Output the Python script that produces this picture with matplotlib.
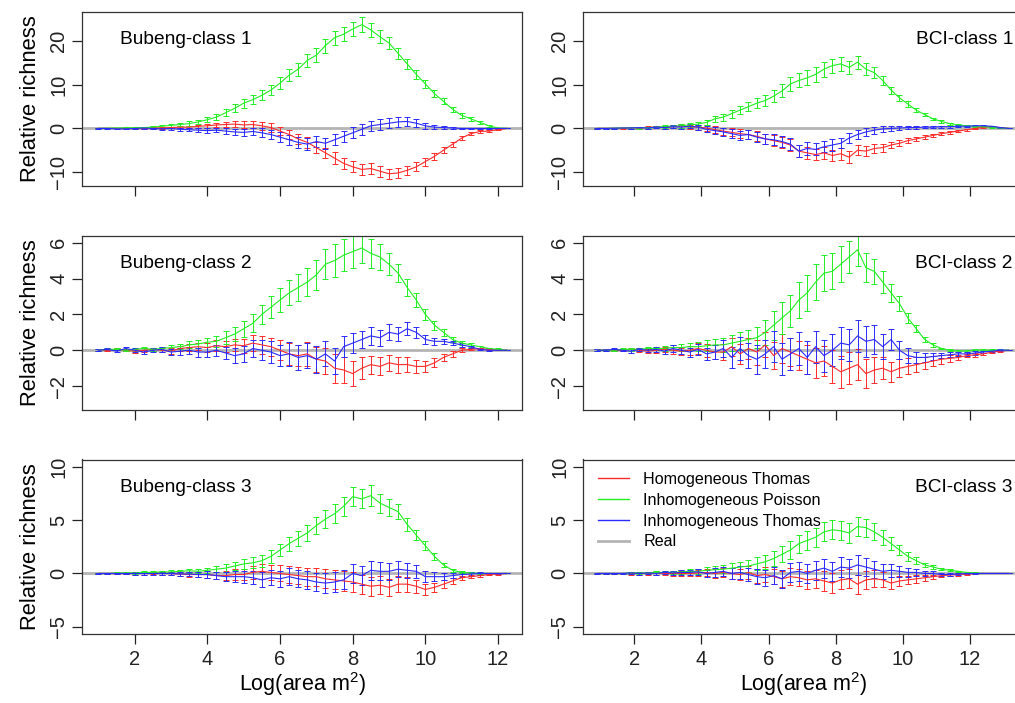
import numpy as np
import matplotlib
matplotlib.use("Agg")
import matplotlib.pyplot as plt
from matplotlib.lines import Line2D

plt.rcParams['font.family'] = ['Liberation Sans', 'DejaVu Sans']
plt.rcParams['mathtext.default'] = 'regular'

# x values: log(area m^2)
bub_x = np.arange(1.0, 12.26, 0.25)   # 46 points
bci_x = np.arange(0.9, 13.16, 0.25)   # 50 points

# ---------------- Bubeng class 1 ----------------
bub1_red = [0, 0, 0, 0, 0, 0.05, 0.1, 0.1, 0.2, 0.3,
            0.3, 0.5, 0.6, 0.8, 0.9, 1.0, 0.8, 0.9, 0.6, 0.2,
            -0.6, -1.4, -2.4, -3.2, -4.4, -5.6, -6.8, -8.0, -8.8, -9.4,
            -9.2, -9.8, -10.4, -10.2, -9.6, -8.8, -7.6, -6.4, -5.0, -3.6,
            -2.2, -1.2, -0.7, -0.6, -0.3, 0]
bub1_red_err = [0, 0, 0, 0.1, 0.1, 0.1, 0.2, 0.2, 0.2, 0.3,
                0.3, 0.4, 0.4, 0.5, 0.6, 0.7, 0.8, 0.8, 0.9, 1.0,
                1.0, 1.1, 1.1, 1.2, 1.2, 1.2, 1.3, 1.3, 1.3, 1.3,
                1.3, 1.3, 1.2, 1.2, 1.1, 1.0, 0.9, 0.8, 0.7, 0.6,
                0.5, 0.4, 0.3, 0.2, 0.1, 0]
bub1_green = [0.0, 0.05, 0.1, 0.1, 0.15, 0.2, 0.3, 0.5, 0.7, 0.9,
              1.1, 1.5, 2.0, 2.6, 3.6, 4.6, 5.8, 6.6, 7.6, 8.8,
              10.4, 12.2, 13.6, 15.6, 16.8, 19.0, 20.8, 21.6, 22.8, 23.8,
              22.6, 21.0, 19.6, 17.2, 14.8, 12.4, 10.2, 8.0, 6.2, 4.4,
              3.0, 2.2, 1.4, 0.6, 0.1, 0.0]
bub1_green_err = [0.1, 0.1, 0.1, 0.2, 0.2, 0.2, 0.3, 0.3, 0.4, 0.4,
                  0.5, 0.5, 0.6, 0.7, 0.8, 0.9, 1.0, 1.0, 1.1, 1.2,
                  1.3, 1.4, 1.5, 1.5, 1.6, 1.6, 1.6, 1.6, 1.7, 1.7,
                  1.6, 1.5, 1.4, 1.3, 1.2, 1.1, 0.9, 0.8, 0.7, 0.6,
                  0.5, 0.4, 0.3, 0.2, 0.1, 0.0]
bub1_blue = [0, 0, -0.1, -0.1, 0, 0.1, 0, -0.1, 0, -0.2,
             -0.3, -0.4, -0.5, -0.4, -0.6, -0.8, -0.9, -0.7, -1.0, -1.4,
             -2.0, -2.6, -3.2, -3.6, -3.0, -3.4, -2.6, -1.8, -1.0, -0.2,
             0.6, 0.9, 1.2, 1.5, 1.6, 1.2, 0.6, 0.3, 0.2, 0.1,
             0, 0, 0, 0, 0, 0]
bub1_blue_err = [0.1, 0.1, 0.1, 0.1, 0.2, 0.2, 0.2, 0.2, 0.3, 0.3,
                 0.4, 0.4, 0.5, 0.5, 0.6, 0.7, 0.8, 0.9, 1.0, 1.0,
                 1.1, 1.2, 1.2, 1.3, 1.3, 1.3, 1.3, 1.3, 1.3, 1.3,
                 1.2, 1.2, 1.1, 1.1, 1.0, 0.9, 0.7, 0.5, 0.4, 0.3,
                 0.2, 0.2, 0.1, 0.1, 0.1, 0.0]

# ---------------- Bubeng class 2 ----------------
bub2_red = [0, 0, 0.05, 0, -0.05, 0, 0.05, 0, -0.05, 0.1,
            0.15, 0.2, 0.15, 0.25, 0.2, 0.3, 0.25, 0.4, 0.3, 0.2,
            0.0, -0.2, -0.3, -0.2, -0.5, -0.6, -1.0, -1.1, -1.3, -1.0,
            -0.8, -0.9, -0.7, -0.8, -0.8, -0.9, -0.9, -0.7, -0.4, -0.2,
            0.0, 0.05, 0.1, 0.05, 0, 0]
bub2_red_err = [0.05, 0.05, 0.05, 0.05, 0.1, 0.1, 0.1, 0.1, 0.15, 0.15,
                0.2, 0.2, 0.25, 0.3, 0.3, 0.35, 0.4, 0.45, 0.5, 0.5,
                0.55, 0.6, 0.6, 0.65, 0.7, 0.75, 0.8, 0.75, 0.7, 0.6,
                0.5, 0.5, 0.45, 0.45, 0.4, 0.35, 0.3, 0.25, 0.2, 0.15,
                0.1, 0.05, 0.05, 0.05, 0, 0]
bub2_green = [0, 0.05, 0.05, 0, 0.05, 0.1, 0.05, 0.1, 0.15, 0.2,
              0.3, 0.35, 0.45, 0.5, 0.7, 0.9, 1.2, 1.5, 2.0, 2.4,
              2.8, 3.2, 3.5, 3.8, 4.2, 4.8, 5.0, 5.3, 5.5, 5.7,
              5.4, 5.2, 4.8, 4.3, 3.5, 2.8, 2.0, 1.4, 1.0, 0.6,
              0.4, 0.3, 0.2, 0.1, 0.05, 0]
bub2_green_err = [0.05, 0.05, 0.05, 0.05, 0.1, 0.1, 0.1, 0.1, 0.15, 0.15,
                  0.2, 0.2, 0.25, 0.3, 0.35, 0.4, 0.45, 0.5, 0.55, 0.6,
                  0.65, 0.7, 0.75, 0.8, 0.85, 0.85, 0.9, 0.9, 0.9, 0.85,
                  0.8, 0.7, 0.6, 0.5, 0.45, 0.4, 0.3, 0.25, 0.2, 0.15,
                  0.1, 0.1, 0.05, 0.05, 0.05, 0]
bub2_blue = [0, 0.05, -0.05, 0.1, 0, -0.1, 0, 0.05, -0.1, -0.05,
             0, -0.1, -0.1, 0.0, -0.15, -0.3, -0.2, 0.1, 0, -0.1,
             -0.3, -0.2, -0.4, -0.3, -0.5, -0.2, -0.6, 0.2, 0.4, 0.6,
             0.8, 0.7, 1.0, 0.9, 1.2, 1.0, 0.6, 0.5, 0.5, 0.4,
             0.3, 0.2, 0.05, 0, 0, 0]
bub2_blue_err = [0.05, 0.05, 0.05, 0.1, 0.1, 0.1, 0.1, 0.15, 0.15, 0.2,
                 0.2, 0.25, 0.3, 0.3, 0.35, 0.4, 0.45, 0.5, 0.55, 0.6,
                 0.6, 0.65, 0.7, 0.7, 0.75, 0.7, 0.7, 0.6, 0.55, 0.5,
                 0.5, 0.45, 0.45, 0.4, 0.35, 0.3, 0.25, 0.2, 0.15, 0.1,
                 0.1, 0.05, 0.05, 0.05, 0, 0]

# ---------------- Bubeng class 3 ----------------
bub3_red = [0, 0, 0, 0, 0, 0, 0.05, 0, 0, -0.05,
            -0.1, -0.1, -0.1, -0.2, -0.2, -0.1, -0.1, 0.1, 0.2, 0.1,
            0.0, -0.1, -0.2, -0.3, -0.3, -0.5, -0.6, -0.7, -0.8, -1.0,
            -1.2, -1.1, -1.3, -1.0, -1.0, -1.2, -1.5, -1.3, -1.0, -0.7,
            -0.4, -0.3, -0.2, -0.1, -0.05, 0]
bub3_red_err = [0.05, 0.05, 0.05, 0.05, 0.1, 0.1, 0.1, 0.15, 0.15, 0.2,
                0.2, 0.25, 0.3, 0.35, 0.4, 0.5, 0.55, 0.6, 0.7, 0.7,
                0.75, 0.8, 0.8, 0.85, 0.85, 0.9, 0.9, 0.9, 0.9, 0.9,
                0.9, 0.85, 0.8, 0.75, 0.7, 0.6, 0.5, 0.45, 0.4, 0.3,
                0.2, 0.15, 0.1, 0.05, 0.05, 0]
bub3_green = [0, 0, 0.05, 0.05, 0.05, 0.1, 0.1, 0.15, 0.15, 0.2,
              0.25, 0.2, 0.3, 0.4, 0.5, 0.7, 0.9, 1.0, 1.2, 1.6,
              2.2, 2.8, 3.3, 3.8, 4.5, 5.1, 5.6, 6.3, 7.2, 7.0,
              7.3, 6.6, 6.2, 5.8, 4.6, 3.6, 2.6, 1.6, 0.8, 0.3,
              0.1, 0.05, 0, 0, 0, 0]
bub3_green_err = [0.05, 0.05, 0.05, 0.05, 0.1, 0.1, 0.1, 0.1, 0.15, 0.15,
                  0.2, 0.2, 0.25, 0.3, 0.35, 0.4, 0.45, 0.5, 0.55, 0.6,
                  0.6, 0.65, 0.7, 0.75, 0.8, 0.85, 0.9, 0.9, 0.9, 0.9,
                  1.0, 0.9, 0.8, 0.7, 0.6, 0.5, 0.4, 0.3, 0.2, 0.15,
                  0.1, 0.05, 0.05, 0, 0, 0]
bub3_blue = [0, 0, 0, 0, 0, 0, 0, 0, 0, -0.05,
             -0.05, -0.1, -0.1, -0.2, -0.3, -0.3, -0.3, -0.4, -0.6, -0.4,
             -0.5, -0.3, -0.5, -0.6, -0.8, -0.9, -0.8, -0.6, 0.0, -0.2,
             0.3, 0.2, 0.2, 0.4, 0.3, 0.2, -0.3, -0.3, -0.3, -0.2,
             -0.1, -0.05, 0, 0, 0, 0]
bub3_blue_err = [0.05, 0.05, 0.05, 0.05, 0.1, 0.1, 0.1, 0.15, 0.15, 0.2,
                 0.2, 0.25, 0.3, 0.35, 0.4, 0.5, 0.55, 0.6, 0.7, 0.7,
                 0.75, 0.8, 0.8, 0.85, 0.85, 0.9, 0.9, 0.9, 0.9, 0.9,
                 0.9, 0.85, 0.8, 0.75, 0.7, 0.6, 0.5, 0.4, 0.3, 0.25,
                 0.2, 0.15, 0.1, 0.05, 0.05, 0]

# ---------------- BCI class 1 ----------------
bci1_red = [0, 0, 0, 0.05, 0.1, 0.1, 0.2, 0.3, 0.2, 0.4,
            0.5, 0.4, 0.3, 0.1, -0.3, -0.6, -0.9, -1.2, -1.4, -1.8,
            -2.4, -2.8, -3.2, -3.8, -5.2, -5.6, -6.0, -5.6, -6.2, -5.8,
            -6.6, -5.0, -5.2, -4.6, -4.4, -3.8, -3.4, -2.8, -2.4, -2.0,
            -1.6, -1.2, -0.9, -0.6, -0.3, 0.0, 0.3, 0.4, 0.2, 0]
bci1_red_err = [0.05, 0.05, 0.1, 0.1, 0.15, 0.2, 0.3, 0.3, 0.4, 0.4,
                0.5, 0.5, 0.6, 0.7, 0.8, 0.8, 0.9, 1.0, 1.0, 1.1,
                1.1, 1.2, 1.2, 1.3, 1.3, 1.3, 1.3, 1.3, 1.3, 1.4,
                1.4, 1.2, 1.1, 1.0, 0.9, 0.8, 0.7, 0.6, 0.5, 0.5,
                0.4, 0.3, 0.3, 0.2, 0.2, 0.1, 0.1, 0.1, 0.05, 0]
bci1_green = [0, 0, 0.05, 0.1, 0.1, 0.15, 0.2, 0.3, 0.4, 0.5,
              0.6, 0.8, 1.0, 1.4, 2.2, 2.6, 3.4, 4.2, 5.0, 5.8,
              6.4, 7.4, 8.6, 10.2, 11.0, 11.6, 12.4, 13.6, 14.4, 14.8,
              14.0, 15.2, 13.6, 12.8, 11.0, 8.8, 7.0, 5.6, 4.2, 3.2,
              2.2, 1.6, 1.1, 0.8, 0.6, 0.5, 0.4, 0.3, 0.1, 0]
bci1_green_err = [0.05, 0.05, 0.1, 0.1, 0.15, 0.2, 0.2, 0.25, 0.3, 0.35,
                  0.4, 0.45, 0.5, 0.6, 0.7, 0.8, 0.9, 1.0, 1.1, 1.2,
                  1.3, 1.4, 1.5, 1.6, 1.6, 1.7, 1.7, 1.7, 1.6, 1.6,
                  1.5, 1.5, 1.4, 1.2, 1.0, 0.8, 0.7, 0.6, 0.5, 0.4,
                  0.3, 0.3, 0.2, 0.2, 0.2, 0.1, 0.1, 0.1, 0.05, 0]
bci1_blue = [0, 0, 0.05, 0.1, 0.1, 0.2, 0.1, 0.3, 0.2, 0.4,
             0.3, 0.5, 0.3, -0.2, -0.5, -0.8, -1.2, -1.6, -1.4, -2.0,
             -2.4, -2.6, -3.0, -3.6, -5.2, -4.6, -4.8, -4.2, -3.8, -3.4,
             -2.2, -1.4, -0.8, -0.4, -0.1, 0.0, 0.1, 0.2, 0.2, 0.3,
             0.3, 0.4, 0.4, 0.5, 0.5, 0.6, 0.6, 0.5, 0.2, 0]
bci1_blue_err = [0.05, 0.05, 0.1, 0.1, 0.15, 0.2, 0.3, 0.3, 0.4, 0.4,
                 0.5, 0.5, 0.6, 0.7, 0.8, 0.9, 1.0, 1.1, 1.1, 1.2,
                 1.2, 1.3, 1.3, 1.4, 1.4, 1.4, 1.4, 1.3, 1.3, 1.2,
                 1.1, 1.0, 0.9, 0.8, 0.7, 0.6, 0.5, 0.4, 0.4, 0.3,
                 0.3, 0.2, 0.2, 0.2, 0.1, 0.1, 0.1, 0.1, 0.05, 0]

# ---------------- BCI class 2 ----------------
bci2_red = [0, 0, 0, 0, 0.05, 0, -0.05, 0, 0.05, 0,
            -0.05, 0, 0.1, 0, -0.1, -0.1, 0.2, -0.2, 0.1, -0.1,
            0.3, -0.3, 0.1, -0.1, -0.3, -0.5, -0.7, -0.6, -0.9, -1.2,
            -1.0, -0.8, -1.3, -1.1, -1.0, -1.2, -1.0, -0.9, -0.8, -0.7,
            -0.6, -0.5, -0.45, -0.4, -0.3, -0.25, -0.2, -0.1, -0.05, 0]
bci2_red_err = [0.05, 0.05, 0.05, 0.05, 0.1, 0.1, 0.1, 0.15, 0.15, 0.2,
                0.2, 0.25, 0.3, 0.35, 0.4, 0.45, 0.5, 0.55, 0.6, 0.7,
                0.7, 0.75, 0.8, 0.8, 0.8, 0.8, 0.85, 0.85, 0.9, 0.9,
                0.9, 0.85, 0.8, 0.7, 0.6, 0.55, 0.5, 0.45, 0.4, 0.35,
                0.3, 0.25, 0.2, 0.15, 0.1, 0.1, 0.05, 0.05, 0.05, 0]
bci2_green = [0, 0, 0, 0.05, 0.05, 0.05, 0.1, 0.1, 0.1, 0.15,
              0.15, 0.2, 0.2, 0.25, 0.3, 0.3, 0.4, 0.5, 0.6, 0.7,
              1.0, 1.4, 1.8, 2.2, 2.8, 3.2, 3.8, 4.3, 4.4, 4.8,
              5.2, 5.6, 4.6, 4.4, 3.8, 3.2, 2.6, 1.8, 1.2, 0.6,
              0.3, 0.1, 0, -0.05, -0.05, 0, 0, 0, 0, 0]
bci2_green_err = [0.05, 0.05, 0.05, 0.05, 0.1, 0.1, 0.1, 0.1, 0.15, 0.15,
                  0.2, 0.2, 0.25, 0.3, 0.35, 0.4, 0.45, 0.5, 0.55, 0.6,
                  0.7, 0.8, 0.9, 0.9, 1.0, 1.0, 1.0, 1.0, 1.0, 1.0,
                  0.9, 0.9, 0.8, 0.7, 0.6, 0.5, 0.4, 0.3, 0.2, 0.15,
                  0.1, 0.05, 0.05, 0.05, 0.05, 0.05, 0.05, 0.05, 0, 0]
bci2_blue = [0, 0, 0.05, 0, -0.05, 0.05, 0, 0.05, -0.05, 0.1,
             0, -0.1, 0.05, -0.2, -0.1, 0.1, -0.4, 0.1, -0.3, -0.5,
             -0.2, 0.2, -0.5, -0.2, 0.1, -0.4, 0.2, -0.3, 0.0, 0.4,
             0.3, 0.8, 0.5, 0.6, 0.2, 0.6, 0.0, -0.3, -0.4, -0.4,
             -0.35, -0.3, -0.25, -0.2, -0.2, -0.15, -0.1, -0.05, 0, 0]
bci2_blue_err = [0.05, 0.05, 0.05, 0.05, 0.1, 0.1, 0.1, 0.15, 0.15, 0.2,
                 0.2, 0.25, 0.3, 0.35, 0.4, 0.5, 0.6, 0.65, 0.7, 0.8,
                 0.8, 0.85, 0.9, 0.9, 0.9, 0.9, 0.9, 0.9, 0.9, 0.9,
                 0.9, 0.9, 0.85, 0.8, 0.7, 0.6, 0.5, 0.4, 0.3, 0.25,
                 0.2, 0.15, 0.15, 0.1, 0.1, 0.1, 0.05, 0.05, 0.05, 0]

# ---------------- BCI class 3 ----------------
bci3_red = [0, 0, 0, 0, 0, 0, 0, 0.05, 0, 0,
            0, 0, 0.05, 0.1, 0, 0.1, 0.0, -0.1, 0.1, -0.2,
            -0.1, -0.3, -0.5, -0.3, -0.4, -0.6, -0.5, -0.7, -0.9, -0.6,
            -0.5, -1.0, -0.6, -0.5, -0.6, -0.9, -0.7, -0.6, -0.5, -0.4,
            -0.3, -0.2, -0.15, -0.1, -0.05, 0, 0, 0, 0, 0]
bci3_red_err = [0.05, 0.05, 0.05, 0.05, 0.1, 0.1, 0.1, 0.15, 0.15, 0.2,
                0.2, 0.25, 0.3, 0.35, 0.4, 0.45, 0.5, 0.55, 0.6, 0.65,
                0.7, 0.7, 0.75, 0.8, 0.8, 0.85, 0.85, 0.9, 0.9, 0.9,
                0.9, 0.9, 0.85, 0.8, 0.7, 0.6, 0.5, 0.4, 0.35, 0.3,
                0.2, 0.15, 0.1, 0.1, 0.05, 0.05, 0, 0, 0, 0]
bci3_green = [0, 0, 0, 0, 0.05, 0.05, 0.05, 0.1, 0.1, 0.1,
              0.15, 0.2, 0.2, 0.3, 0.35, 0.4, 0.5, 0.6, 0.7, 0.9,
              1.1, 1.4, 1.8, 2.2, 2.8, 3.1, 3.4, 3.9, 4.1, 4.0,
              3.8, 4.4, 4.3, 3.9, 3.4, 2.8, 2.2, 1.6, 1.2, 0.8,
              0.6, 0.4, 0.3, 0.2, 0.1, 0.05, 0, 0, 0, 0]
bci3_green_err = [0.05, 0.05, 0.05, 0.05, 0.1, 0.1, 0.1, 0.1, 0.15, 0.15,
                  0.2, 0.2, 0.25, 0.3, 0.35, 0.4, 0.45, 0.5, 0.55, 0.6,
                  0.65, 0.7, 0.75, 0.8, 0.85, 0.9, 0.9, 0.9, 0.9, 0.9,
                  0.9, 0.9, 0.85, 0.8, 0.7, 0.6, 0.5, 0.4, 0.3, 0.2,
                  0.15, 0.1, 0.1, 0.05, 0.05, 0.05, 0, 0, 0, 0]
bci3_blue = [0, 0, 0, 0, 0.05, 0, 0.05, 0, 0.1, 0.05,
             0.1, 0.1, 0.15, 0, 0.1, 0.2, 0.0, 0.1, -0.1, -0.3,
             -0.4, -0.2, -0.5, 0.1, 0.2, 0.0, 0.3, 0.5, 0.2, 0.6,
             0.5, 0.8, 0.6, 0.4, 0.2, 0.3, 0.2, 0.1, 0.1, 0.0,
             0.0, -0.1, -0.1, -0.05, 0, 0, 0, 0, 0, 0]
bci3_blue_err = [0.05, 0.05, 0.05, 0.05, 0.1, 0.1, 0.1, 0.15, 0.15, 0.2,
                 0.2, 0.25, 0.3, 0.35, 0.4, 0.45, 0.5, 0.6, 0.65, 0.7,
                 0.75, 0.8, 0.85, 0.9, 0.9, 0.9, 0.9, 0.9, 0.9, 0.9,
                 0.9, 0.9, 0.85, 0.8, 0.7, 0.6, 0.5, 0.4, 0.3, 0.25,
                 0.2, 0.15, 0.1, 0.1, 0.05, 0.05, 0, 0, 0, 0]

titles = ["Bubeng-class 1", "BCI-class 1", "Bubeng-class 2", "BCI-class 2",
          "Bubeng-class 3", "BCI-class 3"]
series_names = ["Homogeneous Thomas", "Inhomogeneous Poisson", "Inhomogeneous Thomas", "Real"]
colors = ["#ff2a2a", "#22ee22", "#2a2aff", "#b4b4b4"]

row_yticks = [[-10, 0, 10, 20], [-2, 0, 2, 4, 6], [-5, 0, 5, 10]]
row_ylims = [(-13.2, 26.7), (-3.33, 6.37), (-5.63, 10.69)]

panels = [
    (bub_x, [(bub1_red, bub1_red_err), (bub1_green, bub1_green_err), (bub1_blue, bub1_blue_err)]),
    (bci_x, [(bci1_red, bci1_red_err), (bci1_green, bci1_green_err), (bci1_blue, bci1_blue_err)]),
    (bub_x, [(bub2_red, bub2_red_err), (bub2_green, bub2_green_err), (bub2_blue, bub2_blue_err)]),
    (bci_x, [(bci2_red, bci2_red_err), (bci2_green, bci2_green_err), (bci2_blue, bci2_blue_err)]),
    (bub_x, [(bub3_red, bub3_red_err), (bub3_green, bub3_green_err), (bub3_blue, bub3_blue_err)]),
    (bci_x, [(bci3_red, bci3_red_err), (bci3_green, bci3_green_err), (bci3_blue, bci3_blue_err)]),
]

W, H = 1015, 703
fig = plt.figure(figsize=(W / 100, H / 100), dpi=100)

col_left = [82, 583]
row_top = [12, 236, 459.5]
ax_w, ax_h = 440, 174

for k, (xs, series) in enumerate(panels):
    r, c = divmod(k, 2)
    left = col_left[c] / W
    bottom = 1 - (row_top[r] + ax_h) / H
    ax = fig.add_axes([left, bottom, ax_w / W, ax_h / H])

    ax.axhline(0, color=colors[3], lw=2, zorder=1)
    for (vals, errs), col in zip(series, colors[:3]):
        ax.errorbar(xs, vals, yerr=errs, color=col, lw=0.8, elinewidth=0.7,
                    capsize=2.5, capthick=0.7, zorder=2)

    if c == 0:
        ax.set_xlim(0.55, 12.66)
        ax.text(0.086, 0.84, titles[k], transform=ax.transAxes, ha='left',
                va='center', fontsize=13.8)
        ax.set_ylabel("Relative richness", fontsize=15.8, labelpad=6)
    else:
        ax.set_xlim(0.47, 13.58)
        ax.text(0.977, 0.84, titles[k], transform=ax.transAxes, ha='right',
                va='center', fontsize=13.8)

    ax.set_ylim(*row_ylims[r])
    ax.set_yticks(row_yticks[r])
    ax.set_xticks([2, 4, 6, 8, 10, 12])
    for lab in ax.get_yticklabels():
        lab.set_rotation(90)
        lab.set_va('center')
    ax.tick_params(axis='both', direction='out', length=7, width=0.9,
                   labelsize=14.5, colors='#222222')
    ax.tick_params(axis='y', pad=3)
    ax.tick_params(axis='x', pad=5)
    if r < 2:
        ax.tick_params(axis='x', labelbottom=False)
    else:
        ax.set_xlabel(r"Log(area m$^2$)", fontsize=15.5, labelpad=1)
    for sp in ax.spines.values():
        sp.set_linewidth(0.9)
        sp.set_color('#333333')

    if k == 5:
        handles = [Line2D([], [], color=colors[i], lw=1) for i in range(3)]
        handles.append(Line2D([], [], color=colors[3], lw=2))
        ax.legend(handles, series_names, loc='upper left', frameon=False,
                  fontsize=11.6, handlelength=1.9, handletextpad=0.9,
                  labelspacing=0.36, borderaxespad=0,
                  bbox_to_anchor=(0.02, 0.965))

fig.savefig("out.png", dpi=100)
